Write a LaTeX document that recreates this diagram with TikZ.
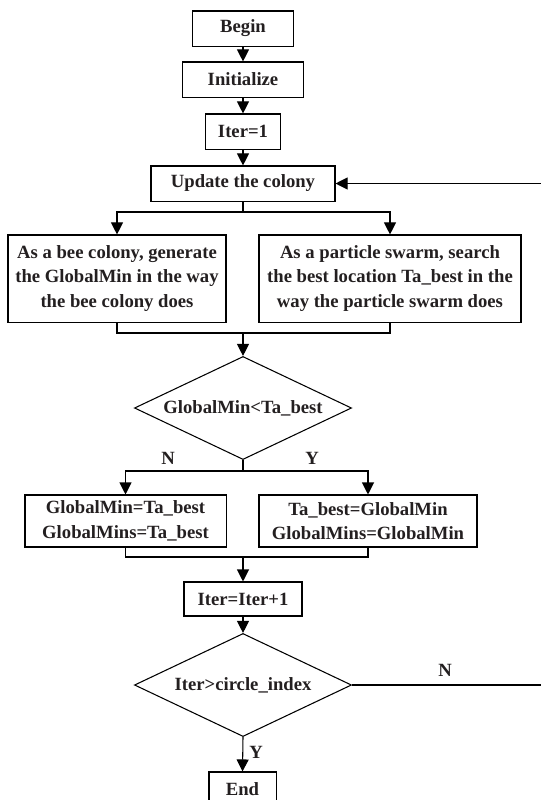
\documentclass[tikz,border=0pt]{standalone}
\usepackage{fontspec}
\setmainfont{Liberation Serif}
\usepackage{tikz}
\usetikzlibrary{arrows.meta,shapes.geometric}
\definecolor{flowink}{RGB}{35,31,32}

\begin{document}
\begin{tikzpicture}[x=0.75pt, y=-0.75pt, line width=0.8pt, line join=miter,
  >={Triangle[length=9pt,width=9pt]},
  font=\fontsize{14}{18.5}\selectfont\bfseries,
  procbox/.style={draw, rectangle, align=center, inner sep=0pt, text=flowink},
  decbox/.style={draw, diamond, aspect=2.1, inner sep=0pt, text=flowink,
    minimum width=162.8pt, minimum height=77.3pt},
  tag/.style={text=flowink, inner sep=0pt}]
  \useasboundingbox (0,0) rectangle (540,800); % page in px, y down

  % main column
  \node[procbox, minimum width=75.8pt, minimum height=26.3pt] (begin) at (243,28.5) {Begin};
  \node[procbox, minimum width=90.8pt, minimum height=26.3pt] (init) at (243,79.5) {Initialize};
  \node[procbox, minimum width=56.3pt, minimum height=26.3pt] (iter) at (243,131.5) {Iter=1};
  \node[procbox, minimum width=138pt, minimum height=26.3pt] (upd) at (243,183.5) {Update the colony};

  % the two searches
  \node[procbox, minimum width=163.5pt, minimum height=65.3pt] (bee) at (117,278.5)
    {As a bee colony, generate\\the GlobalMin in the way\\the bee colony does};
  \node[procbox, minimum width=196.5pt, minimum height=65.3pt] (pso) at (390,278.5)
    {As a particle swarm, search\\the best location Ta\_best in the\\way the particle swarm does};

  \node[decbox] (cmp) at (243,408) {GlobalMin<Ta\_best};

  \node[procbox, minimum width=150.8pt, minimum height=39pt] (setmin) at (125.5,521)
    {GlobalMin=Ta\_best\\GlobalMins=Ta\_best};
  \node[procbox, minimum width=163.5pt, minimum height=39pt] (setbest) at (368,521)
    {Ta\_best=GlobalMin\\GlobalMins=GlobalMin};

  \node[procbox, minimum width=88.5pt, minimum height=25.5pt] (inc) at (243,599) {Iter=Iter+1};
  \node[decbox] (stop) at (243,685) {Iter>circle\_index};
  \node[procbox, minimum width=50.3pt, minimum height=26.3pt] (end) at (242.5,789.5) {End};

  % branch and join points
  \coordinate (split1) at (243,212);
  \coordinate (merge1) at (243,333);
  \coordinate (split2) at (243,471);
  \coordinate (merge2) at (243,557);
  \coordinate (loopbot) at (548,685);
  \coordinate (looptop) at (548,183.5);

  \draw[->] (begin) -- (init);
  \draw[->] (init) -- (iter);
  \draw[->] (iter) -- (upd);

  \draw (upd) -- (split1);
  \draw[->] (split1) -| (bee.north);
  \draw[->] (split1) -| (pso.north);
  \draw (bee.south) |- (merge1);
  \draw (pso.south) |- (merge1);
  \draw[->] (merge1) -- (cmp.north);

  \draw (cmp.south) -- (split2);
  \draw[->] (split2) -| (setmin.north);
  \draw[->] (split2) -| (setbest.north);
  \node[tag] (cmpno) at (168,458) {N};
  \node[tag] (cmpyes) at (312,458) {Y};
  \draw (setmin.south) |- (merge2);
  \draw (setbest.south) |- (merge2);
  \draw[->] (merge2) -- (inc.north);

  \draw[->] (inc) -- (stop.north);
  \draw[->] (stop.south) -- (end.north);
  \node[tag] (stopyes) at (256,752) {Y};

  % back to the colony update
  \draw[->] (stop.east) -- (loopbot) -- (looptop) -- (upd.east);
  \node[tag] (stopno) at (445,670) {N};
\end{tikzpicture}
\end{document}
